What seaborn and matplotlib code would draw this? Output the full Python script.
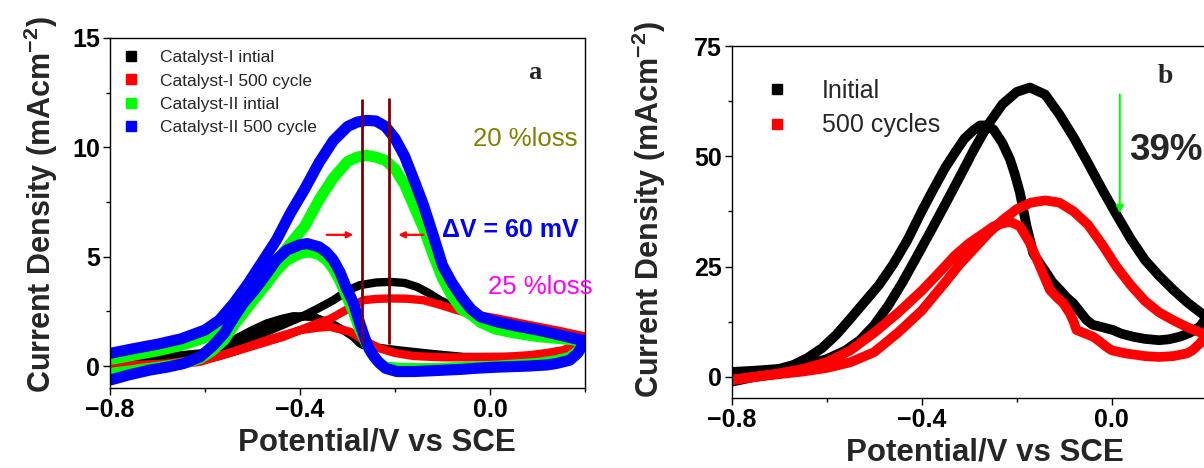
import numpy as np
import matplotlib
matplotlib.use("Agg")
import matplotlib.pyplot as plt
from matplotlib.lines import Line2D
import seaborn as sns

# ---------------- Panel a data (Potential V vs SCE, Current density mA cm-2) ----------------
# Catalyst-I initial (black)
c1i_fwd_x = [-0.80, -0.75, -0.68, -0.61, -0.54, -0.47, -0.40, -0.365, -0.33, -0.30, -0.274, -0.24, -0.21,
             -0.18, -0.154, -0.13, -0.105, -0.08, -0.056, -0.03, 0.00, 0.04, 0.084, 0.12, 0.154, 0.18, 0.20]
c1i_fwd_y = [0.35, 0.38, 0.43, 0.50, 0.96, 1.57, 2.22, 2.60, 3.01, 3.45, 3.70, 3.82, 3.85,
             3.80, 3.62, 3.35, 3.01, 2.75, 2.48, 2.25, 2.05, 1.90, 1.75, 1.60, 1.45, 1.35, 1.25]
c1i_bwd_x = [0.20, 0.18, 0.154, 0.12, 0.084, 0.03, -0.056, -0.12, -0.196, -0.24, -0.267, -0.274, -0.288,
             -0.302, -0.33, -0.372, -0.414, -0.44, -0.47, -0.50, -0.54, -0.58, -0.61, -0.68, -0.75, -0.80]
c1i_bwd_y = [1.25, 0.88, 0.58, 0.45, 0.42, 0.42, 0.42, 0.55, 0.73, 0.85, 0.96, 1.04, 1.34,
             1.55, 1.90, 2.25, 2.28, 2.15, 1.95, 1.65, 1.19, 0.80, 0.58, 0.43, 0.38, 0.35]

# Catalyst-I 500 cycle (red)
c1c_fwd_x = [-0.80, -0.75, -0.68, -0.575, -0.505, -0.435, -0.365, -0.337, -0.30, -0.267, -0.24, -0.21,
             -0.175, -0.14, -0.105, -0.07, -0.03, 0.014, 0.05, 0.084, 0.12, 0.154, 0.20]
c1c_fwd_y = [-0.03, 0.05, 0.12, 0.43, 0.88, 1.34, 1.95, 2.15, 2.60, 3.01, 3.07, 3.09,
             3.08, 3.01, 2.80, 2.56, 2.35, 2.18, 2.02, 1.87, 1.72, 1.57, 1.35]
c1c_bwd_x = [0.20, 0.185, 0.154, 0.12, 0.084, 0.03, -0.05, -0.10, -0.161, -0.20, -0.232, -0.26, -0.295,
             -0.316, -0.337, -0.365, -0.40, -0.47, -0.54, -0.61, -0.716, -0.80]
c1c_bwd_y = [1.35, 1.00, 0.73, 0.60, 0.50, 0.42, 0.40, 0.40, 0.46, 0.60, 0.81, 1.11, 1.57,
             1.68, 1.80, 1.75, 1.64, 1.19, 0.66, 0.20, -0.11, -0.33]

# Catalyst-II initial (green)
c2i_fwd_x = [-0.80, -0.75, -0.70, -0.65, -0.60, -0.57, -0.54, -0.51, -0.48, -0.45, -0.42, -0.39, -0.36,
             -0.33, -0.30, -0.28, -0.26, -0.24, -0.22, -0.20, -0.18, -0.16, -0.14, -0.12, -0.10, -0.08,
             -0.06, -0.04, -0.02, 0.01, 0.05, 0.10, 0.15, 0.20]
c2i_fwd_y = [0.30, 0.50, 0.70, 0.95, 1.30, 1.70, 2.25, 3.10, 4.00, 4.80, 5.60, 6.40, 7.60,
             8.60, 9.35, 9.55, 9.63, 9.55, 9.40, 9.00, 8.30, 7.30, 6.30, 5.10, 4.00, 3.20,
             2.60, 2.35, 2.00, 1.70, 1.52, 1.35, 1.25, 1.15]
c2i_bwd_x = [0.20, 0.185, 0.168, 0.14, 0.10, 0.05, 0.00, -0.05, -0.10, -0.15, -0.19, -0.22, -0.235,
             -0.25, -0.262, -0.274, -0.288, -0.302, -0.316, -0.33, -0.344, -0.36, -0.38, -0.40, -0.428,
             -0.45, -0.47, -0.495, -0.52, -0.54, -0.56, -0.585, -0.61, -0.65, -0.70, -0.75, -0.80]
c2i_bwd_y = [1.15, 0.70, 0.40, 0.25, 0.12, 0.05, -0.02, -0.05, -0.10, -0.12, -0.10, -0.05, 0.20,
             0.60, 1.10, 1.65, 2.50, 3.20, 3.90, 4.45, 4.85, 5.10, 5.22, 5.15, 4.84,
             4.35, 3.77, 3.10, 2.40, 1.85, 1.19, 0.70, 0.35, 0.10, -0.05, -0.20, -0.33]

# Catalyst-II 500 cycle (blue)
c2c_fwd_x = [-0.80, -0.75, -0.70, -0.65, -0.60, -0.57, -0.54, -0.51, -0.48, -0.45, -0.42, -0.39, -0.36,
             -0.33, -0.30, -0.28, -0.26, -0.24, -0.22, -0.20, -0.18, -0.16, -0.14, -0.12, -0.10, -0.08,
             -0.06, -0.04, -0.02, 0.01, 0.05, 0.10, 0.15, 0.20]
c2c_fwd_y = [0.58, 0.80, 1.00, 1.25, 1.65, 2.10, 2.86, 3.75, 4.75, 5.75, 7.00, 8.10, 9.30,
             10.30, 10.95, 11.15, 11.23, 11.20, 10.95, 10.40, 9.60, 8.50, 7.35, 6.00, 4.60, 3.80,
             3.15, 2.60, 2.25, 2.05, 1.85, 1.65, 1.40, 1.15]
c2c_bwd_x = [0.20, 0.185, 0.168, 0.14, 0.119, 0.08, 0.04, 0.014, -0.03, -0.06, -0.091, -0.13, -0.161,
             -0.196, -0.22, -0.232, -0.243, -0.253, -0.264, -0.274, -0.288, -0.302, -0.316, -0.33,
             -0.344, -0.36, -0.385, -0.40, -0.428, -0.45, -0.47, -0.495, -0.52, -0.54, -0.56, -0.585,
             -0.61, -0.645, -0.68, -0.716, -0.76, -0.80]
c2c_bwd_y = [1.15, 0.60, 0.27, 0.12, 0.05, 0.00, -0.03, -0.05, -0.10, -0.15, -0.18, -0.22, -0.25,
             -0.25, -0.10, 0.12, 0.40, 0.73, 1.30, 1.95, 2.90, 3.55, 4.30, 4.85,
             5.20, 5.45, 5.60, 5.55, 5.30, 4.85, 4.23, 3.50, 2.86, 2.20, 1.49, 0.90,
             0.43, 0.12, -0.05, -0.18, -0.40, -0.64]

labels_a = ["Catalyst-I intial", "Catalyst-I 500 cycle", "Catalyst-II intial", "Catalyst-II 500 cycle"]
colors_a = ["#000000", "#ff0000", "#00ff00", "#0000ff"]

# peak markers / annotations of panel a
peak_lines_x = [-0.270, -0.212]
peak_lines_y0 = [1.0, 1.0]
peak_lines_y1 = [12.2, 12.25]
shift_arrow_left = [(-0.344, 6.0), (-0.288, 6.0)]
shift_arrow_right = [(-0.140, 6.0), (-0.193, 6.0)]

# ---------------- Panel b data ----------------
bi_fwd_x = [-0.80, -0.75, -0.70, -0.65, -0.60, -0.56, -0.53, -0.50, -0.47, -0.44, -0.41, -0.38, -0.35,
            -0.32, -0.29, -0.26, -0.23, -0.20, -0.172, -0.14, -0.11, -0.08, -0.05, -0.02, 0.01, 0.04,
            0.07, 0.10, 0.13, 0.16, 0.20]
bi_fwd_y = [-1.1, 0.0, 1.5, 2.5, 4.0, 6.0, 8.3, 11.7, 16.2, 21.5, 27.3, 33.2, 39.2,
            45.3, 51.5, 57.2, 61.8, 64.6, 65.6, 64.0, 59.5, 54.3, 48.5, 42.5, 36.8, 31.3,
            26.5, 22.9, 19.7, 16.8, 13.5]
bi_bwd_x = [0.20, 0.186, 0.165, 0.144, 0.12, 0.10, 0.07, 0.045, 0.02, 0.003, -0.025, -0.04, -0.053,
            -0.067, -0.081, -0.095, -0.109, -0.125, -0.137, -0.15, -0.165, -0.179, -0.193, -0.204,
            -0.214, -0.23, -0.249, -0.265, -0.277, -0.29, -0.31, -0.33, -0.35, -0.376, -0.40, -0.43,
            -0.46, -0.49, -0.52, -0.55, -0.58, -0.61, -0.64, -0.67, -0.70, -0.75, -0.80]
bi_bwd_y = [13.5, 11.4, 10.0, 9.1, 8.5, 8.3, 8.6, 9.1, 9.8, 10.6, 11.4, 11.8, 12.9,
            14.8, 16.7, 18.0, 19.7, 21.5, 23.5, 25.5, 28.0, 34.1, 41.7, 46.0,
            49.3, 53.0, 56.1, 57.0, 57.0, 56.0, 54.0, 50.8, 47.5, 42.4, 37.5, 31.0,
            25.5, 20.8, 17.0, 13.2, 9.5, 6.5, 4.3, 2.7, 1.8, 1.4, 1.1]

bc_fwd_x = [-0.80, -0.75, -0.70, -0.65, -0.60, -0.55, -0.50, -0.45, -0.40, -0.35, -0.32, -0.29, -0.26,
            -0.23, -0.20, -0.17, -0.14, -0.11, -0.08, -0.05, -0.02, 0.01, 0.04, 0.07, 0.10, 0.13,
            0.16, 0.20]
bc_fwd_y = [-0.8, 0.0, 0.6, 1.2, 2.0, 3.3, 5.6, 10.0, 15.0, 21.5, 25.5, 29.0, 32.5,
            35.5, 38.0, 39.5, 40.0, 39.5, 37.5, 34.5, 30.0, 25.0, 20.8, 17.2, 14.6, 12.8,
            11.2, 9.5]
bc_bwd_x = [0.20, 0.186, 0.17, 0.158, 0.13, 0.10, 0.07, 0.03, 0.00, -0.011, -0.025, -0.039, -0.06,
            -0.074, -0.08, -0.088, -0.102, -0.115, -0.13, -0.151, -0.172, -0.193, -0.21, -0.221,
            -0.235, -0.249, -0.27, -0.30, -0.33, -0.36, -0.40, -0.45, -0.50, -0.55, -0.60, -0.65,
            -0.70, -0.75, -0.80]
bc_bwd_y = [9.5, 7.6, 6.0, 5.3, 4.7, 4.5, 4.7, 5.3, 6.0, 6.8, 8.0, 9.1, 10.0,
            10.6, 12.5, 14.4, 16.7, 18.0, 19.7, 25.0, 30.3, 34.1, 35.0, 35.0,
            34.6, 34.1, 32.5, 30.3, 27.5, 24.0, 19.5, 14.5, 10.0, 6.0, 3.3, 1.8,
            0.8, 0.0, -0.6]

labels_b = ["Initial", "500 cycles"]
colors_b = ["#000000", "#ff0000"]
loss_arrow_b = [(0.017, 64.0), (0.017, 37.1)]

# ---------------- styling ----------------
sns.set_style("ticks")
FONT = ["Liberation Sans Narrow", "Liberation Sans", "DejaVu Sans"]
plt.rcParams["font.family"] = FONT
plt.rcParams["mathtext.fontset"] = "custom"
plt.rcParams["mathtext.rm"] = "Liberation Sans"
plt.rcParams["mathtext.bf"] = "Liberation Sans:bold"
plt.rcParams["axes.linewidth"] = 1.0
plt.rcParams["xtick.direction"] = "out"
plt.rcParams["ytick.direction"] = "out"

fig = plt.figure(figsize=(12.04, 4.68), dpi=100)
axA = fig.add_axes([0.0914, 0.171, 0.3945, 0.748])
axB = fig.add_axes([0.6077, 0.1496, 0.3945, 0.752])


def draw_loop(ax, fx, fy, bx, by, color, lw):
    sns.lineplot(x=np.r_[fx, bx], y=np.r_[fy, by], sort=False, estimator=None,
                 color=color, lw=lw, ax=ax, solid_capstyle="round", solid_joinstyle="round")


# panel a curves
draw_loop(axA, c1i_fwd_x, c1i_fwd_y, c1i_bwd_x, c1i_bwd_y, colors_a[0], 6.0)
draw_loop(axA, c1c_fwd_x, c1c_fwd_y, c1c_bwd_x, c1c_bwd_y, colors_a[1], 6.0)
draw_loop(axA, c2i_fwd_x, c2i_fwd_y, c2i_bwd_x, c2i_bwd_y, colors_a[2], 8.0)
draw_loop(axA, c2c_fwd_x, c2c_fwd_y, c2c_bwd_x, c2c_bwd_y, colors_a[3], 8.0)

axA.vlines(peak_lines_x, peak_lines_y0, peak_lines_y1, color="#800000", lw=2.0, zorder=5)
for (x0, y0), (x1, y1) in [shift_arrow_left, shift_arrow_right]:
    axA.annotate("", xy=(x1, y1), xytext=(x0, y0),
                 arrowprops=dict(arrowstyle="-|>", color="#ff0000", lw=1.6, mutation_scale=9,
                                 shrinkA=0, shrinkB=0), zorder=6)

axA.set_xlim(-0.8, 0.2)
axA.set_ylim(-1.0, 15.0)
axA.set_xticks([-0.8, -0.4, 0.0])
axA.set_xticklabels(["\u22120.8", "\u22120.4", "0.0"])
axA.set_xticks([-0.6, -0.2, 0.2], minor=True)
axA.set_yticks([0, 5, 10, 15])
axA.set_yticks([2.5, 7.5, 12.5], minor=True)

axA.text(0.095, 13.4, "a", fontsize=19, fontweight="bold", family="Liberation Serif",
         ha="center", va="center")
axA.text(-0.036, 10.4, "20 %loss", fontsize=18.5, color="#808000", ha="left", va="center")
axA.text(-0.101, 6.2, "\u0394V = 60 mV", fontsize=18, fontweight="bold", color="#0000ff",
         ha="left", va="center")
axA.text(-0.004, 3.6, "25 %loss", fontsize=18.5, color="#ff00ff", ha="left", va="center",
         clip_on=False)

handles_a = [Line2D([], [], ls="none", marker="s", markersize=6.5, color=c) for c in colors_a]
axA.legend(handles_a, labels_a, loc="upper left", bbox_to_anchor=(0.0, 1.0), frameon=False,
           fontsize=12.5, handlelength=1.0, handletextpad=1.2, labelspacing=0.47, borderaxespad=0.3)

# panel b curves
draw_loop(axB, bi_fwd_x, bi_fwd_y, bi_bwd_x, bi_bwd_y, colors_b[0], 7.0)
draw_loop(axB, bc_fwd_x, bc_fwd_y, bc_bwd_x, bc_bwd_y, colors_b[1], 7.0)

axB.annotate("", xy=loss_arrow_b[1], xytext=loss_arrow_b[0],
             arrowprops=dict(arrowstyle="-|>", color="#00ff00", lw=1.5, mutation_scale=11,
                             shrinkA=0, shrinkB=0))
axB.text(0.036, 51.3, "39%", fontsize=26.5, fontweight="bold", ha="left", va="center", clip_on=False)
axB.text(0.113, 68.1, "b", fontsize=20, fontweight="bold", family="Liberation Serif",
         ha="center", va="center")

axB.set_xlim(-0.8, 0.2)
axB.set_ylim(-4.8, 75.0)
axB.set_xticks([-0.8, -0.4, 0.0])
axB.set_xticklabels(["\u22120.8", "\u22120.4", "0.0"])
axB.set_xticks([-0.6, -0.2, 0.2], minor=True)
axB.set_yticks([0, 25, 50, 75])
axB.set_yticks([12.5, 37.5, 62.5], minor=True)

handles_b = [Line2D([], [], ls="none", marker="s", markersize=7.5, color=c) for c in colors_b]
axB.legend(handles_b, labels_b, loc="upper left", bbox_to_anchor=(0.048, 0.935), frameon=False,
           fontsize=18, handlelength=1.0, handletextpad=1.3, labelspacing=0.42, borderaxespad=0.0)

for ax in (axA, axB):
    for s in ax.spines.values():
        s.set_visible(True)
        s.set_color("black")
        s.set_linewidth(1.0)
    ax.tick_params(axis="both", which="major", labelsize=18, length=5, width=1.0, colors="black",
                   pad=2)
    ax.tick_params(axis="both", which="minor", length=3, width=1.0, colors="black")
    for lab in ax.get_xticklabels() + ax.get_yticklabels():
        lab.set_fontweight("bold")
    ax.set_xlabel("Potential/V vs SCE", fontsize=22.5, fontweight="bold")
    ax.set_ylabel("Current Density (mAcm$^{\\mathbf{-2}}$)", fontsize=22, fontweight="bold")

axA.xaxis.set_label_coords(0.562, -0.114)
axA.yaxis.set_label_coords(-0.105, 0.523)
axB.xaxis.set_label_coords(0.533, -0.111)
axB.yaxis.set_label_coords(-0.135, 0.534)

fig.savefig("out.png", dpi=100)
